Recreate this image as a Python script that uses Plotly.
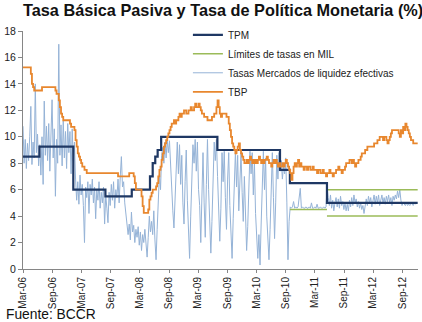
import pandas as pd
import plotly.graph_objects as go

START = "2006-03-01"

# Tasa Básica Pasiva (weekly, from Mar-06)
tbp_values = [
    15.25, 15.25, 15.25, 15.25, 15.25, 15.25, 15.25, 14.75, 14.0, 13.75,
    13.5, 13.5, 13.5, 13.5, 13.5, 13.5, 13.5, 13.75, 13.75, 13.75,
    13.75, 13.75, 13.75, 13.75, 13.75, 13.75, 13.75, 13.75, 13.75, 13.5,
    13.25, 13.25, 12.75, 12.25, 11.75, 11.5, 11.25, 11.25, 11.25, 11.25,
    11.25, 11.25, 11.0, 10.75, 10.75, 10.75, 10.5, 9.75, 9.25, 8.75,
    8.5, 8.25, 8.0, 7.75, 7.75, 7.5, 7.5, 7.25, 7.25, 7.25,
    7.25, 7.25, 7.25, 7.25, 7.25, 7.25, 7.25, 7.25, 7.25, 7.25,
    7.25, 7.25, 7.25, 7.25, 7.25, 7.25, 7.25, 7.25, 7.25, 7.25,
    7.25, 7.25, 7.25, 7.25, 7.25, 7.0, 7.0, 7.0, 7.0, 7.0,
    7.0, 7.0, 7.0, 7.0, 7.0, 7.25, 7.25, 7.25, 7.25, 7.0,
    6.5, 6.0, 6.0, 6.0, 6.0, 6.0, 5.5, 4.75, 4.25, 4.25,
    4.25, 4.25, 4.5, 5.25, 5.5, 5.75, 6.0, 6.0, 6.0, 6.25,
    6.5, 7.0, 7.5, 7.75, 8.25, 8.75, 9.25, 9.5, 9.75, 10.0,
    10.25, 10.5, 10.75, 11.0, 11.0, 11.25, 11.0, 11.25, 11.25, 11.5,
    11.75, 11.5, 11.75, 11.75, 12.0, 12.0, 11.75, 11.75, 12.0, 12.0,
    12.25, 12.0, 12.0, 12.25, 12.5, 12.25, 12.25, 12.5, 12.25, 12.0,
    11.75, 11.75, 11.5, 11.5, 11.5, 11.25, 11.25, 11.25, 11.25, 11.5,
    11.5, 11.75, 11.75, 12.25, 12.75, 12.25, 11.75, 11.5, 11.75, 11.75,
    11.75, 11.75, 11.5, 11.5, 11.0, 10.5, 10.0, 9.5, 9.25, 9.0,
    8.75, 9.0, 9.25, 9.5, 9.0, 8.75, 8.5, 8.25, 8.0, 8.0,
    8.25, 8.0, 8.25, 8.5, 8.25, 8.0, 8.25, 8.0, 8.25, 8.0,
    8.25, 8.5, 8.25, 8.0, 8.25, 8.0, 8.25, 8.25, 8.5, 8.25,
    8.0, 8.0, 7.75, 8.0, 8.25, 8.0, 8.25, 8.0, 7.75, 8.0,
    7.75, 7.75, 8.0, 7.75, 8.0, 8.25, 8.0, 7.75, 7.5, 7.25,
    6.75, 7.25, 7.75, 8.0, 7.75, 8.0, 8.25, 7.75, 8.0, 7.75,
    7.75, 7.5, 7.75, 7.75, 7.5, 7.75, 7.75, 7.5, 7.5, 7.75,
    7.5, 7.5, 7.5, 7.25, 7.5, 7.5, 7.25, 7.25, 7.5, 7.25,
    7.25, 7.0, 7.25, 7.25, 7.5, 7.25, 7.25, 7.0, 7.25, 7.25,
    7.5, 7.5, 7.75, 7.5, 7.5, 7.25, 7.5, 7.5, 7.75, 8.0,
    8.0, 8.0, 8.25, 8.25, 8.0, 8.25, 8.0, 7.75, 8.0, 8.0,
    8.25, 8.25, 8.5, 8.75, 8.75, 8.75, 9.0, 9.0, 9.25, 9.25,
    9.25, 9.25, 9.25, 9.25, 9.5, 9.5, 9.5, 9.75, 9.75, 10.0,
    10.0, 10.0, 9.75, 10.0, 10.0, 9.75, 9.5, 9.75, 10.0, 10.25,
    10.5, 10.5, 10.5, 10.5, 10.5, 10.5, 10.25, 10.0, 10.5, 10.25,
    10.75, 10.5, 11.0, 10.75, 10.5, 10.25, 10.0, 9.75, 9.75, 9.5,
    9.5, 9.5, 9.5, 9.5,
]

# Tasas Mercados de liquidez efectivas (weekly, from Mar-06)
liquidez_values = [
    10.8, 8.0, 9.8, 7.6, 9.5, 8.2, 10.0, 12.3, 7.9, 9.6,
    8.4, 14.0, 8.8, 10.2, 7.8, 9.4, 7.1, 10.0, 6.4, 12.7,
    8.6, 10.8, 8.2, 11.0, 7.4, 10.2, 12.8, 8.4, 10.6, 5.5,
    9.8, 8.0, 17.0, 8.6, 10.9, 7.8, 11.2, 8.4, 10.4, 7.6,
    11.0, 8.8, 10.4, 7.2, 10.6, 8.2, 9.6, 6.8, 5.2, 6.6,
    4.9, 7.1, 5.6, 6.4, 4.8, 2.0, 6.2, 5.4, 6.6, 4.2,
    6.4, 5.6, 6.8, 5.0, 6.2, 3.8, 6.0, 5.2, 6.6, 4.6,
    5.8, 5.0, 6.2, 3.4, 5.6, 4.6, 3.5, 5.8, 4.8, 6.4,
    5.2, 6.6, 4.6, 6.0, 5.4, 6.8, 5.0, 7.0, 8.5, 6.2,
    6.6, 5.0, 4.2, 3.0, 2.6, 3.4, 2.2, 4.3, 2.8, 3.3,
    2.0, 3.0, 2.4, 3.2, 1.8, 2.8, 1.4, 2.6, 2.0, 3.0,
    1.6, 0.9, 2.4, 4.0, 2.8, 3.6, 2.6, 4.4, 2.2, 0.7,
    3.0, 5.5, 7.2, 6.0, 8.6, 9.2, 8.0, 9.6, 8.4, 9.8,
    8.8, 9.7, 7.6, 6.0, 4.4, 3.1, 5.8, 8.4, 9.6, 7.2,
    9.4, 6.4, 8.6, 5.0, 3.4, 6.6, 9.0, 5.2, 2.2, 0.8,
    4.0, 7.6, 9.4, 8.0, 9.8, 7.4, 9.6, 6.0, 4.8, 2.0,
    5.6, 8.8, 5.0, 2.4, 6.4, 9.8, 6.0, 2.8, 1.2, 3.6,
    7.8, 9.6, 8.2, 9.8, 7.0, 4.2, 2.1, 4.6, 8.8, 6.6,
    8.9, 5.4, 3.0, 6.8, 8.8, 4.8, 2.2, 0.8, 3.8, 7.4,
    8.9, 6.2, 8.6, 4.4, 6.8, 8.8, 5.8, 3.6, 7.0, 4.2,
    1.4, 3.2, 6.6, 8.9, 7.2, 8.8, 5.6, 8.0, 4.2, 2.0,
    0.8, 2.6, 0.3, 3.4, 6.8, 8.9, 6.0, 8.4, 4.0, 1.8,
    0.7, 3.0, 6.2, 8.8, 5.4, 2.3, 5.0, 8.6, 6.8, 8.8,
    7.4, 8.2, 6.8, 7.8, 7.2, 8.4, 5.0, 0.7, 3.6, 4.7,
    4.6, 4.7, 5.1, 4.6, 4.7, 4.6, 4.7, 5.4, 6.1, 4.6,
    4.7, 4.6, 4.6, 4.7, 4.6, 4.6, 4.7, 4.6, 5.0, 4.6,
    4.6, 4.7, 4.6, 4.9, 4.6, 4.6, 4.7, 4.6, 4.6, 4.7,
    4.6, 4.7, 6.2, 5.4, 4.8, 5.6, 4.6, 5.2, 4.4, 5.0,
    5.4, 4.7, 5.3, 4.6, 5.5, 4.8, 5.1, 4.5, 5.0, 4.4,
    4.9, 4.4, 5.2, 4.7, 5.4, 4.8, 5.6, 5.0, 5.3, 4.7,
    5.1, 4.6, 5.0, 4.5, 4.8, 4.2, 4.9, 5.3, 4.8, 5.5,
    5.0, 5.4, 4.7, 5.2, 5.6, 4.9, 5.5, 5.0, 5.6, 4.8,
    5.2, 5.6, 5.0, 5.4, 4.9, 5.5, 5.1, 5.6, 5.0, 5.4,
    4.8, 5.5, 5.2, 5.6, 5.3, 5.9, 5.4, 6.0, 5.2, 4.8,
    5.0, 4.9, 4.8, 5.0, 4.8, 4.9, 4.8, 5.0, 4.9, 4.8,
    5.0, 4.9, 5.0,
]

# Tasa de Política Monetaria (step changes)
tpm_dates = ["2006-03-01", "2006-06-12", "2007-01-10", "2007-07-30", "2008-01-11",
             "2008-05-04", "2008-05-21", "2008-06-06", "2008-06-21", "2008-07-13",
             "2009-06-30", "2010-07-27", "2010-09-27", "2011-05-17", "2012-12-05"]
tpm_values = [8.5, 9.25, 6.0, 5.5, 6.0, 7.0, 8.0, 8.5, 9.0, 10.0, 9.0, 7.5, 6.5, 5.0, 5.0]

# Límites de tasas en MIL
mil_dates = ["2010-09-27", "2011-05-17", None, "2011-05-17", "2012-12-05", None,
             "2011-05-17", "2012-12-05"]
mil_values = [4.5, 4.5, None, 6.0, 6.0, None, 4.0, 4.0]

tick_dates = ["2006-03-01", "2006-09-01", "2007-03-01", "2007-09-01", "2008-03-01",
              "2008-09-01", "2009-03-01", "2009-09-01", "2010-03-01", "2010-09-01",
              "2011-03-01", "2011-09-01", "2012-03-01", "2012-09-01"]
tick_labels = ["Mar-06", "Sep-06", "Mar-07", "Sep-07", "Mar-08", "Sep-08", "Mar-09",
               "Sep-09", "Mar-10", "Sep-10", "Mar-11", "Sep-11", "Mar-12", "Sep-12"]

tbp_dates = pd.date_range(START, periods=len(tbp_values), freq="7D")
liq_dates = pd.date_range(START, periods=len(liquidez_values), freq="7D")

FONT = "Liberation Sans, Arial, sans-serif"

fig = go.Figure()
fig.add_trace(go.Scatter(
    x=liq_dates, y=liquidez_values, mode="lines",
    name="Tasas Mercados de liquidez efectivas",
    line=dict(color="#95B3D7", width=1), legendrank=3))
fig.add_trace(go.Scatter(
    x=mil_dates, y=mil_values, mode="lines", name="Límites de tasas en MIL",
    line=dict(color="#9BBB59", width=1.5), connectgaps=False, legendrank=2))
fig.add_trace(go.Scatter(
    x=tpm_dates, y=tpm_values, mode="lines", name="TPM",
    line=dict(color="#1F3864", width=2.2, shape="hv"), legendrank=1))
fig.add_trace(go.Scatter(
    x=tbp_dates, y=tbp_values, mode="lines", name="TBP",
    line=dict(color="#E8872E", width=1.8, shape="hv"), legendrank=4))

fig.update_layout(
    width=422, height=322,
    margin=dict(l=18, r=4, t=31, b=53),
    paper_bgcolor="white", plot_bgcolor="white",
    font=dict(family=FONT, size=10.5, color="#222222"),
    title=dict(text="<b>Tasa Básica Pasiva y Tasa de Política Monetaria (%)</b>",
               x=0, xref="paper", xanchor="left", y=0.985, yref="container", yanchor="top",
               font=dict(family=FONT, size=16.3, color="#111111"), pad=dict(l=0, t=0)),
    showlegend=True,
    legend=dict(x=0.4175, y=1.045, xanchor="left", yanchor="top",
                bgcolor="rgba(0,0,0,0)", font=dict(family=FONT, size=10, color="#222222"),
                tracegroupgap=0),
    xaxis=dict(type="date", range=["2006-03-01", "2012-12-07"],
               tickmode="array", tickvals=tick_dates, ticktext=tick_labels,
               tickangle=-90, ticks="outside", ticklen=3, tickcolor="#868686",
               showline=True, linecolor="#868686", linewidth=1,
               showgrid=False, zeroline=False,
               tickfont=dict(family=FONT, size=10, color="#222222")),
    yaxis=dict(range=[0, 18], tickmode="linear", tick0=0, dtick=2,
               ticks="outside", ticklen=4, tickcolor="#868686",
               showline=True, linecolor="#868686", linewidth=1,
               showgrid=False, zeroline=False,
               tickfont=dict(family=FONT, size=10.5, color="#222222")),
    annotations=[dict(text="Fuente: BCCR", x=-0.045, y=-0.228,
                      xref="paper", yref="paper", xanchor="left", yanchor="bottom",
                      showarrow=False, borderpad=0,
                      font=dict(family=FONT, size=13.8, color="#111111"))],
)

fig.write_html("out.html")
